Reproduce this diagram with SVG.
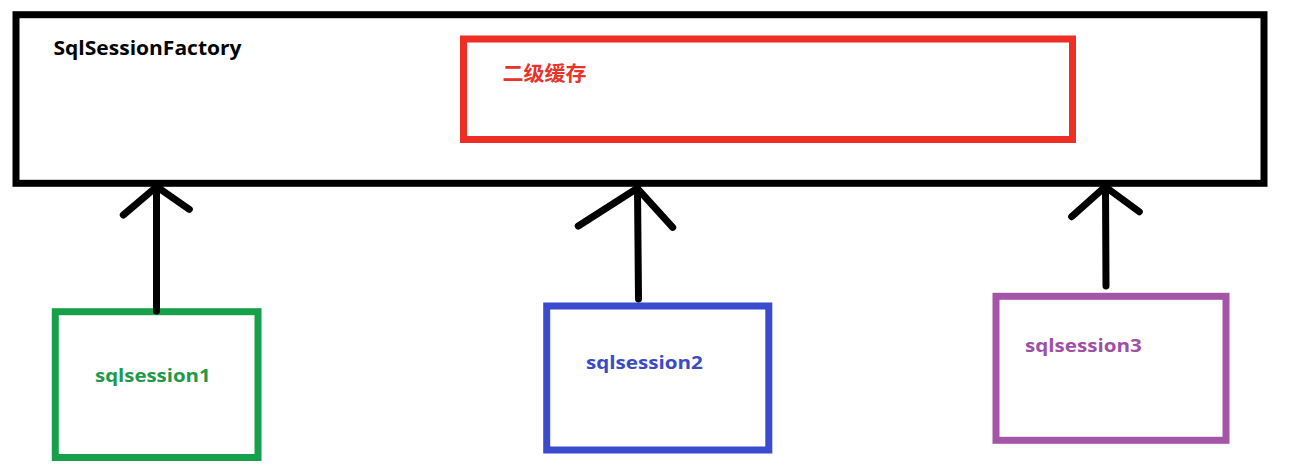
<svg xmlns="http://www.w3.org/2000/svg" width="1296" height="475" viewBox="0 0 1296 475">
<style>
  .box { fill: none; stroke-width: 7; }
  .lbl { font-family: "Open Sans", "Noto Sans", "Liberation Sans", sans-serif; font-weight: 700; }
  .cjk { font-family: "Noto Sans CJK SC", "Noto Sans", sans-serif; font-weight: 700; }
  .conn line, .conn polyline { stroke: #000; stroke-width: 7; stroke-linecap: round; stroke-linejoin: round; fill: none; }
</style>
<rect width="1296" height="475" fill="#ffffff"/>
<g id="factory">
  <rect class="box" x="16" y="14.7" width="1248" height="168.6" stroke="#000000"/>
  <text class="lbl" x="53.5" y="55" font-size="19.5" fill="#000000" textLength="188" lengthAdjust="spacingAndGlyphs">SqlSessionFactory</text>
</g>
<g id="cache">
  <rect class="box" x="463.5" y="39" width="609" height="100.5" stroke="#ee2e24" stroke-width="6.5"/>
  <text class="cjk" x="502.5" y="81" font-size="20.5" fill="#e8322a" textLength="84" lengthAdjust="spacingAndGlyphs">二级缓存</text>
</g>
<g id="session1">
  <rect class="box" x="55.3" y="311.7" width="202.7" height="145.8" stroke="#16a04a"/>
  <text class="lbl" x="95" y="382.3" font-size="18.5" fill="#1e9a48" textLength="115.7" lengthAdjust="spacingAndGlyphs">sqlsession1</text>
</g>
<g id="session2">
  <rect class="box" x="546.7" y="306" width="222.1" height="144" stroke="#3a4bd0"/>
  <text class="lbl" x="586" y="369.3" font-size="18.5" fill="#3a4bc8" textLength="116.7" lengthAdjust="spacingAndGlyphs">sqlsession2</text>
</g>
<g id="session3">
  <rect class="box" x="996" y="296.3" width="230" height="144" stroke="#a455a8"/>
  <text class="lbl" x="1025" y="351.7" font-size="18.5" fill="#a04fa8" textLength="116.7" lengthAdjust="spacingAndGlyphs">sqlsession3</text>
</g>
<g id="connectors" class="conn">
  <line x1="156.5" y1="311" x2="156.5" y2="187"/>
  <polyline points="123.3,215 156.7,186.7 189.3,209.3"/>
  <line x1="638.5" y1="299" x2="637.5" y2="188.5"/>
  <polyline points="578.3,226 637.3,188.3 672.7,227.3"/>
  <line x1="1106" y1="286" x2="1105.5" y2="187"/>
  <polyline points="1071.7,216.7 1105.3,186.7 1139.3,211.7"/>
</g>
</svg>
